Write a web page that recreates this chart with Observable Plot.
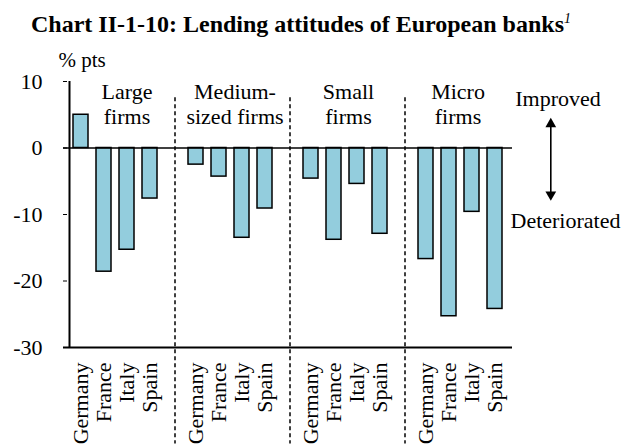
<!DOCTYPE html>
<html>
<head>
<meta charset="utf-8">
<script src="https://cdn.jsdelivr.net/npm/d3@7"></script>
<script src="https://cdn.jsdelivr.net/npm/@observablehq/plot@0.6"></script>
<style>
  html, body { margin: 0; padding: 0; background: #fff; }
  #title {
    box-sizing: border-box; height: 44px; padding-top: 9px; padding-left: 31px;
    font-family: "Liberation Serif", serif; font-weight: bold;
    font-size: 24px; line-height: 30px; color: #000; white-space: nowrap;
  }
  #title sup { font-style: italic; font-weight: normal; font-size: 14px; line-height: 0; vertical-align: 9px; }
</style>
</head>
<body>
<div id="title">Chart II-1-10: Lending attitudes of European banks<sup>1</sup></div>
<div id="chart"></div>
<script>
// ---- data ----
const countries = ["Germany", "France", "Italy", "Spain"];
const groupNames = ["Large firms", "Medium-sized firms", "Small firms", "Micro firms"];
const groupLabelLines = ["Large\nfirms", "Medium-\nsized firms", "Small\nfirms", "Micro\nfirms"];
const largeFirms = [5.0, -18.6, -15.3, -7.6];
const mediumFirms = [-2.5, -4.3, -13.5, -9.1];
const smallFirms = [-4.6, -13.8, -5.4, -12.9];
const microFirms = [-16.7, -25.3, -9.6, -24.2];
const yTicks = [10, 0, -10, -20, -30];
const unitLabel = "% pts";
const upLabel = "Improved";
const downLabel = "Deteriorated";

// ---- build table ----
const series = [largeFirms, mediumFirms, smallFirms, microFirms];
const rows = [];
const domain = [];
const gaps = [];
groupNames.forEach((g, gi) => {
  if (gi > 0) { const k = "gap" + gi; domain.push(k); gaps.push(k); }
  countries.forEach((c, ci) => {
    const key = g + "|" + c;
    domain.push(key);
    rows.push({key, group: g, country: c, value: series[gi][ci]});
  });
});
const lastKey = domain[domain.length - 1];
const labelDx = [0, -7, -8.5, -14];

const fs = 22;
const ff = "Liberation Serif";
const chart = Plot.plot({
  width: 623,
  height: 400,
  marginTop: 37,
  marginBottom: 97,
  marginLeft: 63,
  marginRight: 111,
  style: {fontFamily: ff, fontSize: fs + "px", color: "black", background: "white"},
  x: {type: "band", domain, paddingInner: 0.34, paddingOuter: 0.16, axis: null},
  y: {axis: null, domain: [-30, 10]},
  marks: [
    Plot.axisY(yTicks, {tickSize: -4, tickPadding: 25, fontFamily: ff, fontSize: fs,
      tickFormat: d => (d < 0 ? "-" + Math.abs(d) : String(d)), label: null}),
    Plot.barY(rows, {x: "key", y1: 0, y2: "value", fill: "#93CDDD", stroke: "black", strokeWidth: 1.5}),
    Plot.ruleY([0], {stroke: "black", strokeWidth: 1.6}),
    Plot.ruleY([-30], {stroke: "black", strokeWidth: 2}),
    Plot.ruleX([domain[0]], {x: d => d, y1: -30, y2: 10, stroke: "black", strokeWidth: 2, dx: -11.5}),
    Plot.ruleX(gaps, {x: d => d, y1: 7.55, y2: -44.5, stroke: "black", strokeWidth: 1.5, strokeDasharray: "4,3", dx: 2}),
    Plot.text(rows, {x: "key", text: "country", rotate: -90, frameAnchor: "bottom", textAnchor: "end", lineAnchor: "middle", dy: 15, fontSize: fs, fontFamily: ff}),
    ...groupNames.map((g, i) => Plot.text([{key: g + "|Italy", label: groupLabelLines[i]}], {
      x: "key", y: 10, text: "label", lineAnchor: "top", lineHeight: 25 / fs, fontSize: fs, fontFamily: ff, dx: labelDx[i]
    })),
    Plot.text([unitLabel], {frameAnchor: "top-left", textAnchor: "start", lineAnchor: "top", dx: -5, dy: -29.3, fontSize: 21, fontFamily: ff}),
    Plot.text([upLabel], {frameAnchor: "top-right", textAnchor: "middle", lineAnchor: "top", dx: 45.5, dy: 8.7, fontSize: fs, fontFamily: ff}),
    Plot.text([downLabel], {frameAnchor: "top-right", textAnchor: "start", lineAnchor: "top", dx: -2, dy: 130.7, fontSize: fs, fontFamily: ff}),
    Plot.ruleX([lastKey], {x: d => d, y1: 3.8, y2: -7.0, stroke: "black", strokeWidth: 1.6, dx: 55.8}),
    Plot.dot([lastKey], {x: d => d, y: 3.6, symbol: "triangle", r: 4, fill: "black", stroke: "none", dx: 55.8}),
    Plot.dot([lastKey], {x: d => d, y: -7.0, symbol: "triangle", r: 4, fill: "black", stroke: "none", rotate: 180, dx: 55.8})
  ]
});
document.getElementById("chart").appendChild(chart);
</script>
</body>
</html>
